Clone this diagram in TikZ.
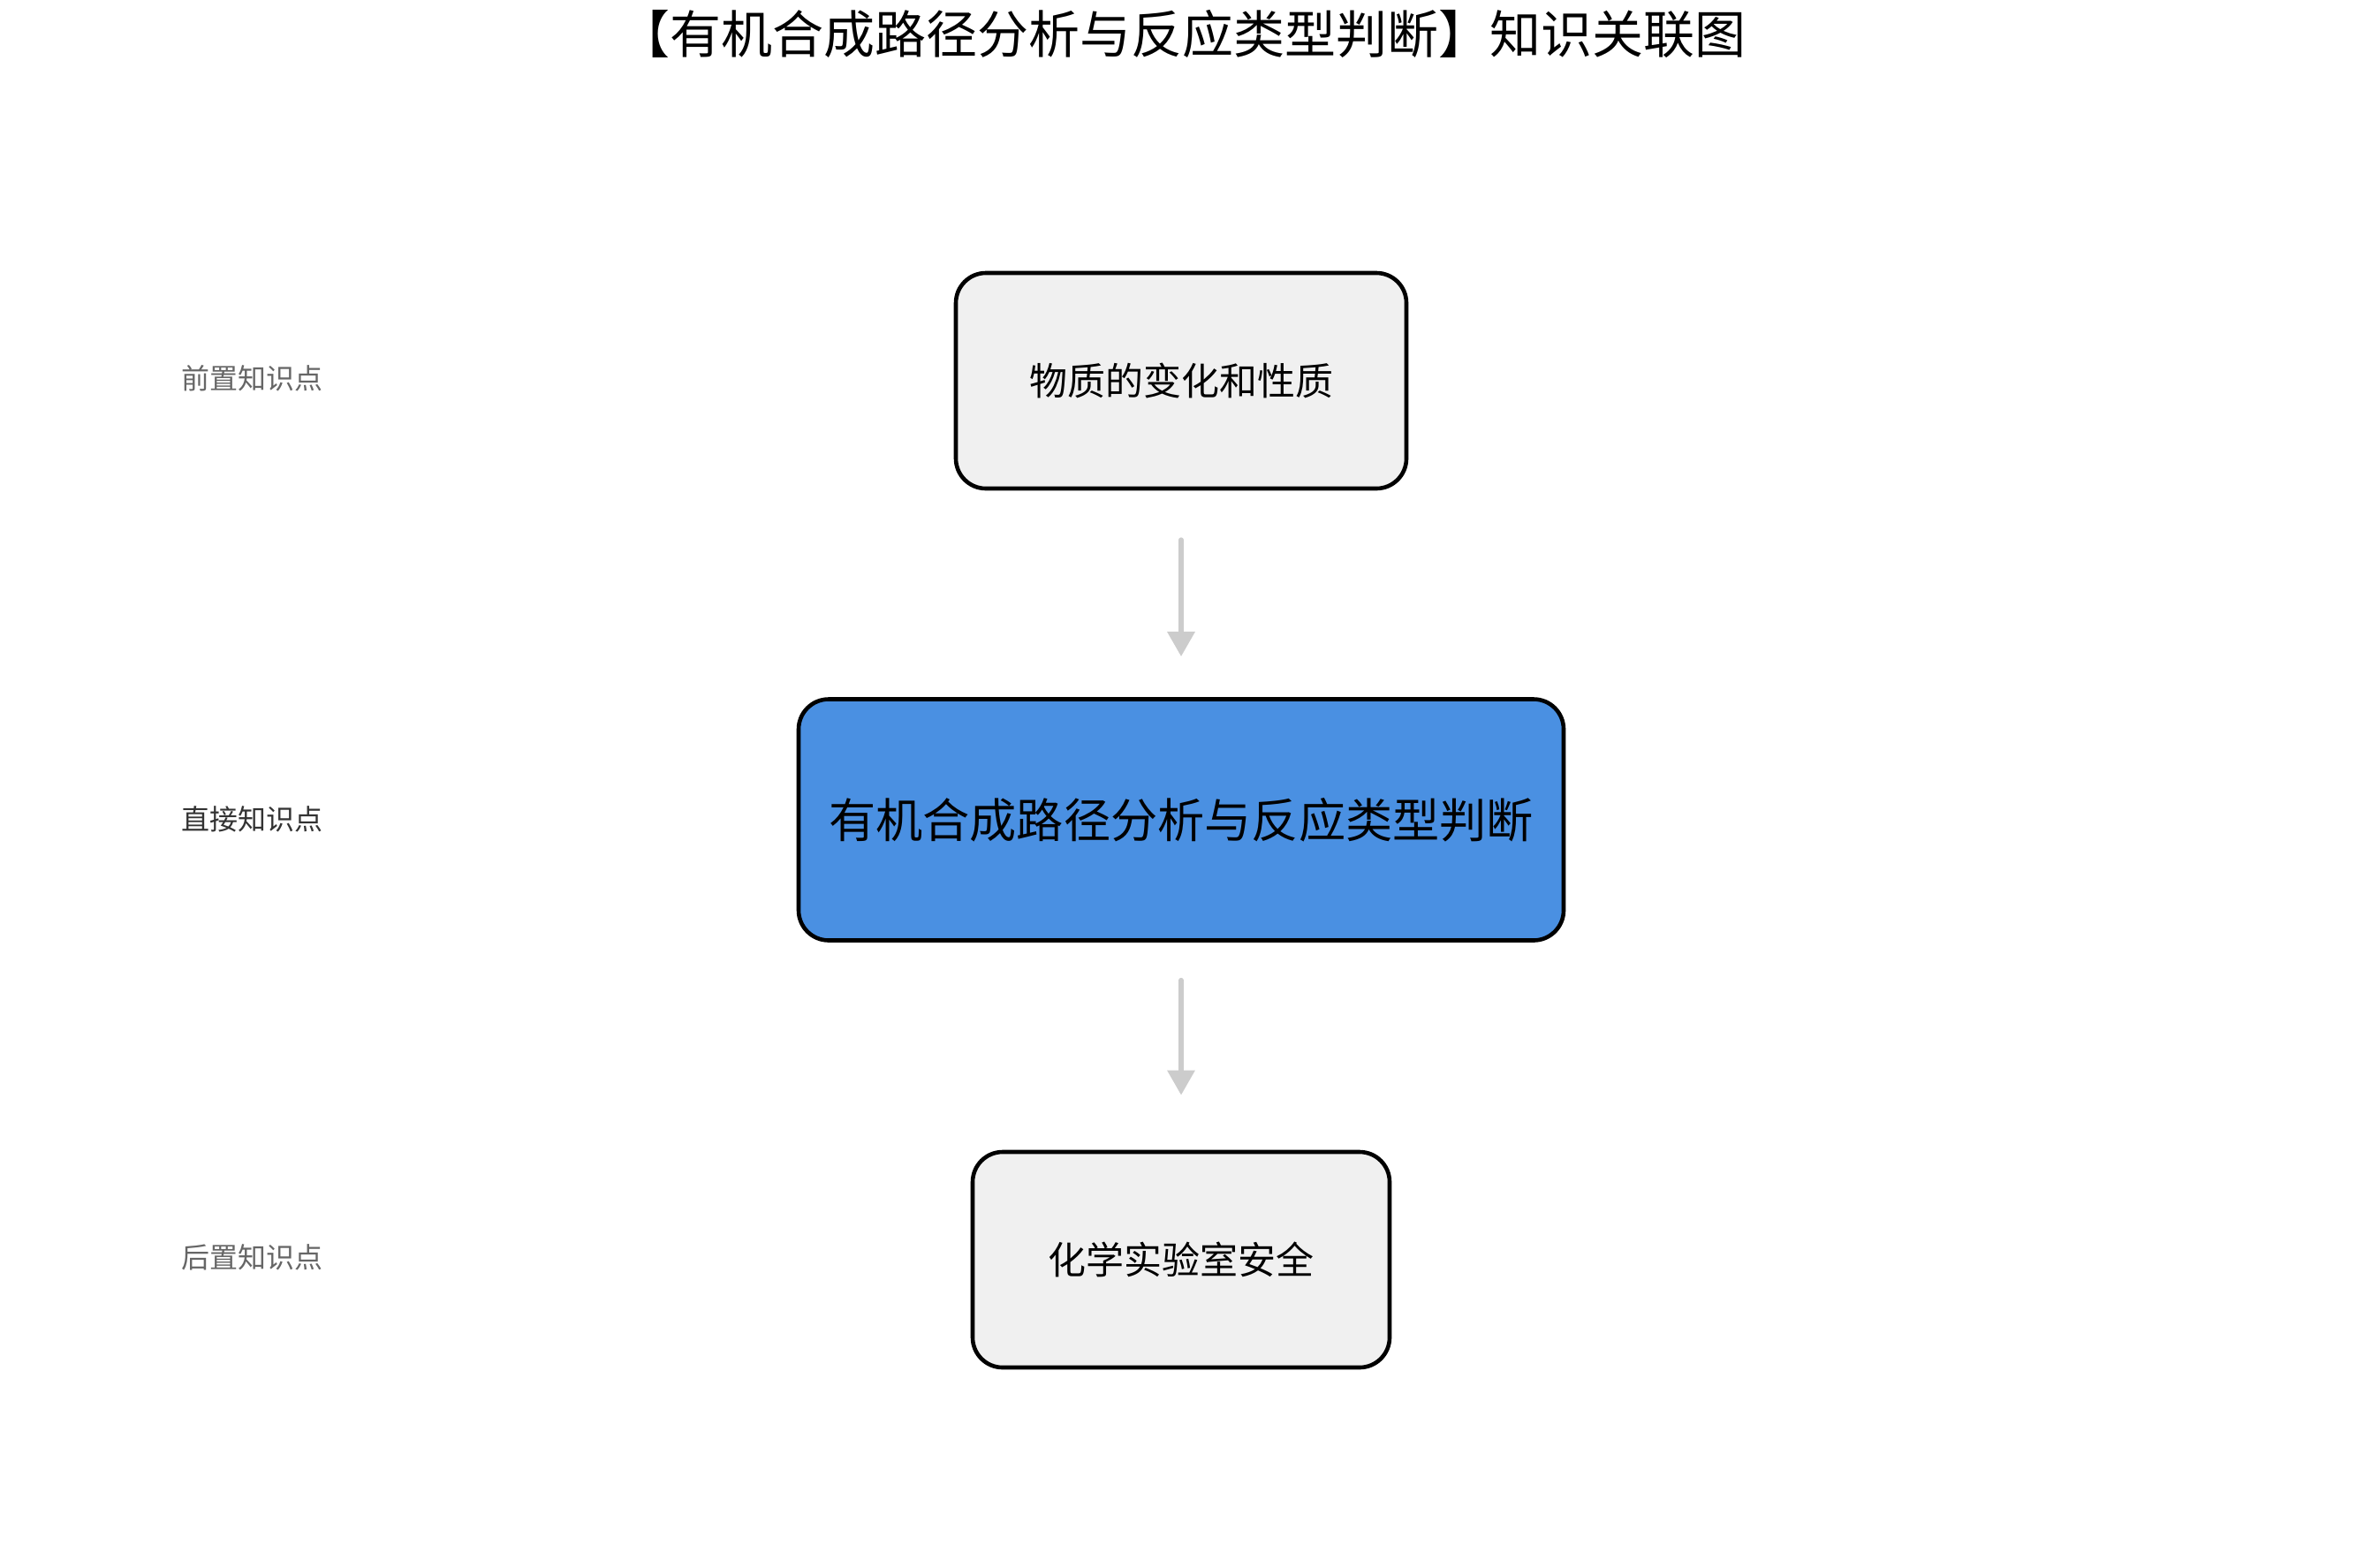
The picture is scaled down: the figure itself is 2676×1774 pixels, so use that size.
\documentclass[tikz,border=0pt]{standalone}
\usepackage{fontspec}
\newfontfamily\cjk{Noto Sans CJK SC}
\usetikzlibrary{arrows.meta}
\definecolor{boxgray}{HTML}{F0F0F0}
\definecolor{mainblue}{HTML}{4A90E2}
\definecolor{arrowgray}{HTML}{CCCCCC}
\definecolor{labelgray}{HTML}{666666}
\definecolor{labeldark}{HTML}{333333}
\tikzset{
  kbox/.style={draw=black, line width=2.3pt, rounded corners=17pt, inner sep=0pt, align=center, font=\cjk\fontsize{21.5pt}{26pt}\selectfont},
  sidebox/.style={kbox, fill=boxgray},
  mainbox/.style={kbox, fill=mainblue, font=\cjk\fontsize{26.6pt}{32pt}\selectfont},
  levellabel/.style={font=\cjk\fontsize{16pt}{20pt}\selectfont, text=labelgray},
  flow/.style={draw=arrowgray, line width=3pt, line cap=round, -{Triangle[length=14pt,width=15pt]}},
}
\begin{document}
\begin{tikzpicture}[x=0.5pt,y=-0.5pt]
\useasboundingbox (0,0) rectangle (2676,1774);
\node[font=\cjk\fontsize{29pt}{35pt}\selectfont] (title) at (1338,38) {【有机合成路径分析与反应类型判断】知识关联图};
\node[sidebox, minimum width=255pt, minimum height=122pt] (pre) at (1337,431) {物质的变化和性质};
\node[mainbox, minimum width=433pt, minimum height=136.5pt] (main) at (1337,928) {有机合成路径分析与反应类型判断};
\node[sidebox, minimum width=236pt, minimum height=122pt] (post) at (1337,1426) {化学实验室安全};
\node[levellabel] (lpre) at (285,428) {前置知识点};
\node[levellabel, text=labeldark] (lmain) at (285,927) {直接知识点};
\node[levellabel] (lpost) at (285,1423) {后置知识点};
\draw[flow, shorten <=28pt, shorten >=23pt] (pre) -- (main);
\draw[flow, shorten <=21.5pt, shorten >=31pt] (main) -- (post);
\end{tikzpicture}
\end{document}
